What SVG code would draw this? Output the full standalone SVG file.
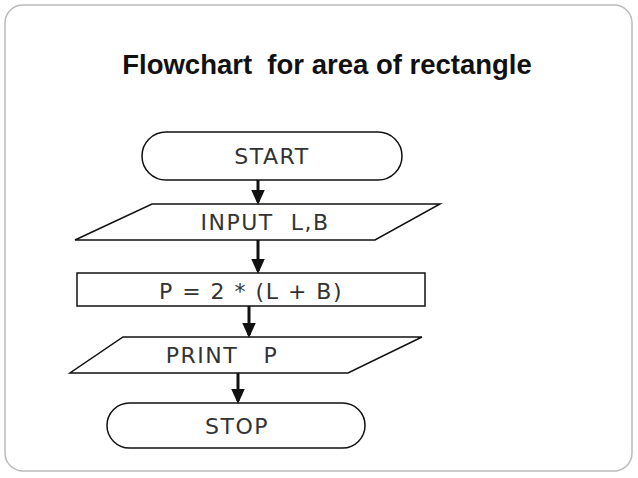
<svg xmlns="http://www.w3.org/2000/svg" width="638" height="478" viewBox="0 0 638 478">
<style>
.s{fill:#fff;stroke:#111;stroke-width:1.5}
.t{font-family:"DejaVu Sans",sans-serif;font-size:22px;letter-spacing:1.5px;fill:#333;text-anchor:middle;dominant-baseline:central;white-space:pre}
.c{stroke:#111;stroke-width:3;fill:none}
</style>
<defs><marker id="a" markerWidth="5" markerHeight="4.5" refX="4" refY="2.25" orient="auto" markerUnits="strokeWidth"><path d="M0,0L5,2.25L0,4.5z" fill="#111"/></marker></defs>
<rect x="5" y="5" width="627" height="466" rx="18" fill="#fff" stroke="#bbb" stroke-width="1.5"/>
<text x="327" y="74" font-family="Liberation Sans,Arial,sans-serif" font-weight="bold" font-size="27.5" text-anchor="middle" fill="#111" style="white-space:pre">Flowchart  for area of rectangle</text>
<g id="start"><rect class="s" x="142" y="132" width="260" height="48" rx="24"/><text class="t" x="272" y="156">START</text></g>
<g id="input"><polygon class="s" points="152,204 440,204 375,240 75,240"/><text class="t" x="265" y="222">INPUT  L,B</text></g>
<g id="process"><rect class="s" x="77" y="273" width="348" height="33"/><text class="t" x="251" y="291">P = 2 * (L + B)</text></g>
<g id="print"><polygon class="s" points="123,337 422,337 348,373 70,373"/><text class="t" x="222" y="355">PRINT   P</text></g>
<g id="stop"><rect class="s" x="107" y="403" width="258" height="45" rx="22.5"/><text class="t" x="237" y="426">STOP</text></g>
<g id="connectors">
<line class="c" x1="258" y1="180" x2="258" y2="202" marker-end="url(#a)"/>
<line class="c" x1="258" y1="240" x2="258" y2="271" marker-end="url(#a)"/>
<line class="c" x1="249" y1="306" x2="249" y2="335" marker-end="url(#a)"/>
<line class="c" x1="238" y1="373" x2="238" y2="401" marker-end="url(#a)"/>
</g>
</svg>
